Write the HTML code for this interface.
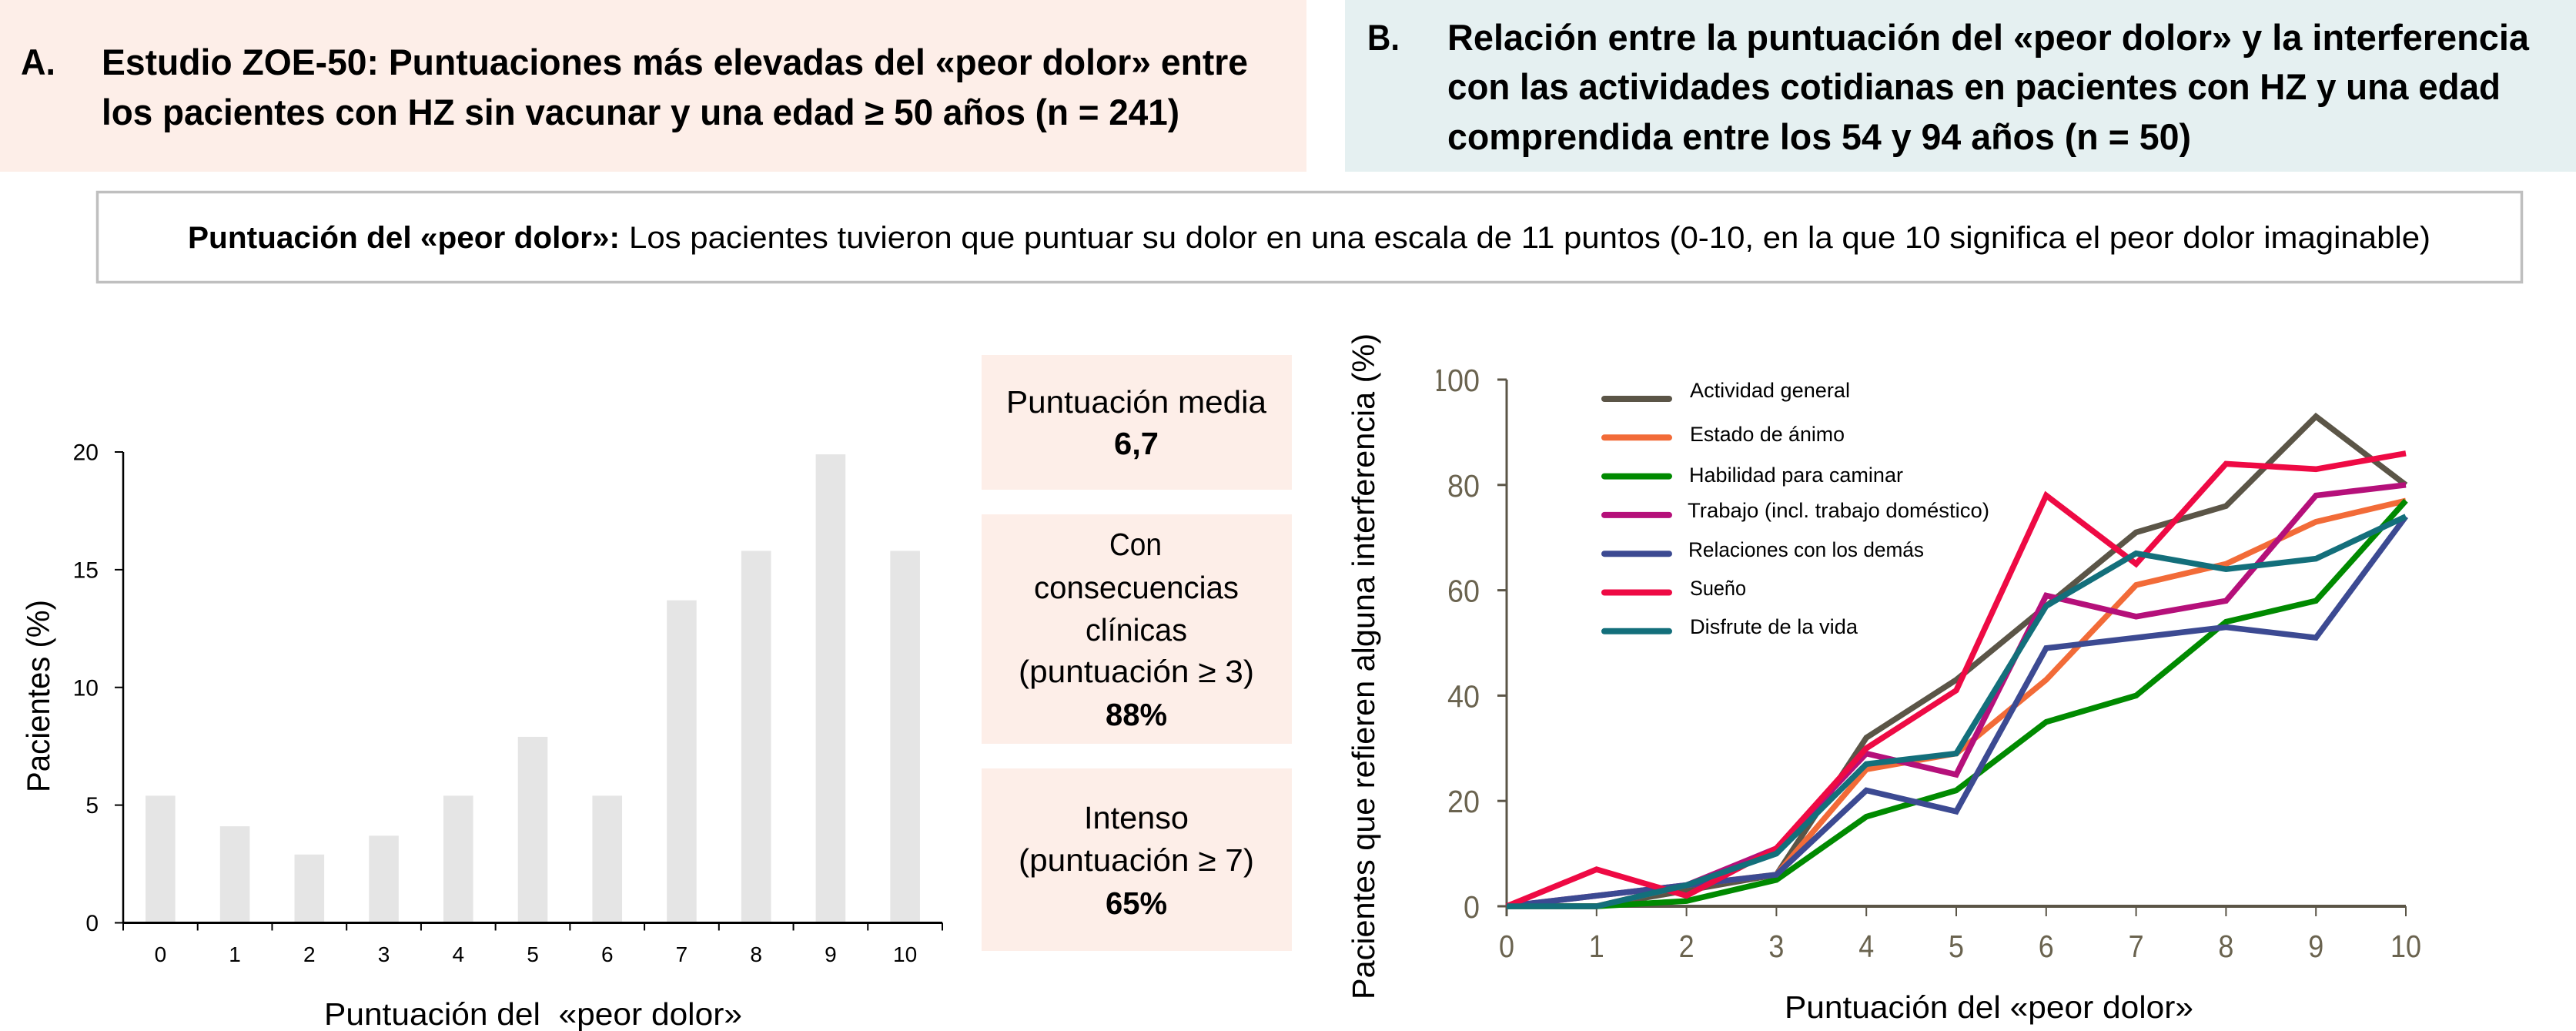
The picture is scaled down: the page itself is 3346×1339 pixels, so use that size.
<!DOCTYPE html>
<html lang="es">
<head>
<meta charset="utf-8">
<title>Estudio ZOE-50: puntuación del «peor dolor»</title>
<style>
html,body{margin:0;padding:0;background:#fff;width:3346px;height:1339px;overflow:hidden}
svg{display:block}
text{font-family:"Liberation Sans",sans-serif;fill:#000}
.head{font-size:47px;font-weight:700}
.note{font-size:40px}
.stat{font-size:41px;text-anchor:start}
.leg{font-size:27px}
.title{font-size:39px}
</style>
</head>
<body>
<svg id="figure" xmlns="http://www.w3.org/2000/svg" width="3346" height="1339" viewBox="0 0 3346 1339">
  <defs>
    <clipPath id="tick-clip"><rect x="1866" y="440" width="200" height="800"/></clipPath>
  </defs>
  <rect x="0" y="0" width="3346" height="1339" fill="#ffffff"/>

  <g>
    <rect x="0" y="0" width="1697" height="223" fill="#fdeee8"/>
    <text class="head" x="27" y="97" textLength="45" lengthAdjust="spacingAndGlyphs">A.</text>
    <text class="head" x="132" y="97" textLength="1489" lengthAdjust="spacingAndGlyphs">Estudio ZOE-50: Puntuaciones más elevadas del «peor dolor» entre</text>
    <text class="head" x="132" y="162" textLength="1400" lengthAdjust="spacingAndGlyphs">los pacientes con HZ sin vacunar y una edad ≥ 50 años (n = 241)</text>
  </g>

  <g>
    <rect x="1747" y="0" width="1599" height="223" fill="#e5f0f1"/>
    <text class="head" x="1776" y="65" textLength="42" lengthAdjust="spacingAndGlyphs">B.</text>
    <text class="head" x="1880" y="65" textLength="1405" lengthAdjust="spacingAndGlyphs">Relación entre la puntuación del «peor dolor» y la interferencia</text>
    <text class="head" x="1880" y="129" textLength="1368" lengthAdjust="spacingAndGlyphs">con las actividades cotidianas en pacientes con HZ y una edad</text>
    <text class="head" x="1880" y="194" textLength="966" lengthAdjust="spacingAndGlyphs">comprendida entre los 54 y 94 años (n = 50)</text>
  </g>

  <g>
    <rect x="126.5" y="249.5" width="3149" height="117" fill="#ffffff" stroke="#bfbfbf" stroke-width="3.5"/>
    <text class="note" style="font-weight:700" x="244" y="322" textLength="561" lengthAdjust="spacingAndGlyphs">Puntuación del «peor dolor»:</text>
    <text class="note" x="817" y="322" textLength="2340" lengthAdjust="spacingAndGlyphs">Los pacientes tuvieron que puntuar su dolor en una escala de 11 puntos (0-10, en la que 10 significa el peor dolor imaginable)</text>
  </g>

  <g id="bar-chart">
    <g id="bar-marks"></g>
    <g id="bar-axes"></g>
    <text transform="translate(64,1029) rotate(-90)" x="0" y="0" style="font-size:42px" textLength="250" lengthAdjust="spacingAndGlyphs">Pacientes (%)</text>
    <text x="421" y="1331" style="font-size:41px" textLength="543" lengthAdjust="spacingAndGlyphs" xml:space="preserve">Puntuación del  «peor dolor»</text>
  </g>

  <g>
    <g>
      <rect x="1275" y="461" width="403" height="175" fill="#fdeee8"/>
      <text class="stat" x="1307" y="536" textLength="338" lengthAdjust="spacingAndGlyphs">Puntuación media</text>
      <text class="stat" style="font-weight:700" x="1447" y="590" textLength="58" lengthAdjust="spacingAndGlyphs">6,7</text>
    </g>
    <g>
      <rect x="1275" y="668" width="403" height="298" fill="#fdeee8"/>
      <text class="stat" x="1441" y="721" textLength="68" lengthAdjust="spacingAndGlyphs">Con</text>
      <text class="stat" x="1343" y="777" textLength="266" lengthAdjust="spacingAndGlyphs">consecuencias</text>
      <text class="stat" x="1410" y="832" textLength="132" lengthAdjust="spacingAndGlyphs">clínicas</text>
      <text class="stat" x="1323" y="886" textLength="306" lengthAdjust="spacingAndGlyphs">(puntuación ≥ 3)</text>
      <text class="stat" style="font-weight:700" x="1436" y="942" textLength="80" lengthAdjust="spacingAndGlyphs">88%</text>
    </g>
    <g>
      <rect x="1275" y="998" width="403" height="237" fill="#fdeee8"/>
      <text class="stat" x="1408" y="1076" textLength="136" lengthAdjust="spacingAndGlyphs">Intenso</text>
      <text class="stat" x="1323" y="1131" textLength="306" lengthAdjust="spacingAndGlyphs">(puntuación ≥ 7)</text>
      <text class="stat" style="font-weight:700" x="1436" y="1187" textLength="80" lengthAdjust="spacingAndGlyphs">65%</text>
    </g>
  </g>

  <g id="line-chart">
    <g id="line-axes"></g>
    <g id="line-marks"></g>
    <g id="line-legend"></g>
    <text transform="translate(1785,1298) rotate(-90)" x="0" y="0" style="font-size:41px" textLength="865" lengthAdjust="spacingAndGlyphs">Pacientes que refieren alguna interferencia (%)</text>
    <text x="2318" y="1322" style="font-size:41px" textLength="531" lengthAdjust="spacingAndGlyphs">Puntuación del «peor dolor»</text>
  </g>
</svg>

<script>
// Bar chart data
const barCategories = ['0', '1', '2', '3', '4', '5', '6', '7', '8', '9', '10'];
const barValues = [5.4, 4.1, 2.9, 3.7, 5.4, 7.9, 5.4, 13.7, 15.8, 19.9, 15.8];
const barYTicks = [0, 5, 10, 15, 20];

// Line chart data
const lineXTicks = [0, 1, 2, 3, 4, 5, 6, 7, 8, 9, 10];
const lineYTicks = [0, 20, 40, 60, 80, 100];
const actividadGeneral = [0, 0, 3, 6, 32, 43, 57, 71, 76, 93, 80];
const estadoDeAnimo = [0, 0, 4, 6, 26, 29, 43, 61, 65, 73, 77];
const habilidadCaminar = [0, 0, 1, 5, 17, 22, 35, 40, 54, 58, 77];
const trabajo = [0, 2, 4, 11, 29, 25, 59, 55, 58, 78, 80];
const relaciones = [0, 2, 4, 6, 22, 18, 49, 51, 53, 51, 74];
const sueno = [0, 7, 2, 11, 30, 41, 78, 65, 84, 83, 86];
const disfrute = [0, 0, 4, 10, 27, 29, 57, 67, 64, 66, 74];
const seriesNames = ['Actividad general', 'Estado de ánimo', 'Habilidad para caminar', 'Trabajo (incl. trabajo doméstico)', 'Relaciones con los demás', 'Sueño', 'Disfrute de la vida'];
const seriesValues = [actividadGeneral, estadoDeAnimo, habilidadCaminar, trabajo, relaciones, sueno, disfrute];
const seriesColors = ['#5b5547', '#f26b38', '#008a00', '#b5107a', '#3c4a92', '#ee0a44', '#136f7b'];

const NS = 'http://www.w3.org/2000/svg';
function make(tag, parent, attrs) {
  const el = document.createElementNS(NS, tag);
  for (const k in attrs) el.setAttribute(k, attrs[k]);
  parent.appendChild(el);
  return el;
}

// Bar chart scales
const barLeft = 160, barRight = 1224, barBase = 1198.5, barTop = 587;
const barStep = (barRight - barLeft) / barCategories.length;
function barX(i) { return barLeft + barStep * (i + 0.5); }
function barY(v) { return barBase - (v / 20) * (barBase - barTop); }

const barMarks = document.getElementById('bar-marks');
const barAxes = document.getElementById('bar-axes');
barValues.forEach(function (v, i) {
  const el = make('rect', barMarks, { x: barX(i) - 19.3, y: barY(v), width: 38.6, height: barBase - barY(v), fill: '#e5e5e5' });
  
  
});
const barYAxis = make('line', barAxes, { x1: barLeft, y1: barTop, x2: barLeft, y2: barBase + 1, stroke: '#000', 'stroke-width': 2.5 });


const barXAxis = make('line', barAxes, { x1: barLeft, y1: barBase, x2: barRight, y2: barBase, stroke: '#000', 'stroke-width': 3 });


barYTicks.forEach(function (t) {
  const tick = make('line', barAxes, { x1: barLeft - 11, y1: barY(t), x2: barLeft, y2: barY(t), stroke: '#000', 'stroke-width': 2 });
  
  
  const label = make('text', barAxes, { x: 128, y: barY(t) + 10.5, 'text-anchor': 'end', style: 'font-size:30px' });
  label.textContent = String(t);
  
  
});
for (let i = 0; i <= barCategories.length; i++) {
  const tx = barLeft + barStep * i;
  const tick = make('line', barAxes, { x1: tx, y1: barBase, x2: tx, y2: barBase + 10, stroke: '#000', 'stroke-width': 2 });
  
  
}
barCategories.forEach(function (c, i) {
  const label = make('text', barAxes, { x: barX(i), y: 1249, 'text-anchor': 'middle', style: 'font-size:28px' });
  label.textContent = c;
  
  
});

// Line chart scales
const lineLeft = 1957, lineRight = 3125, lineBase = 1177, lineTop = 493;
function lineX(v) { return lineLeft + (v / 10) * (lineRight - lineLeft); }
function lineY(v) { return lineBase - (v / 100) * (lineBase - lineTop); }

const lineAxes = document.getElementById('line-axes');
const lineMarks = document.getElementById('line-marks');
const lineLegend = document.getElementById('line-legend');
const axisColor = '#5b5547', tickTextColor = '#6a634f';
const lineYAxis = make('line', lineAxes, { x1: lineLeft, y1: lineTop, x2: lineLeft, y2: lineBase + 13, stroke: axisColor, 'stroke-width': 3 });


const lineXAxis = make('line', lineAxes, { x1: lineLeft, y1: lineBase, x2: lineRight, y2: lineBase, stroke: axisColor, 'stroke-width': 4 });


lineYTicks.forEach(function (t) {
  const tick = make('line', lineAxes, { x1: lineLeft - 12, y1: lineY(t), x2: lineLeft, y2: lineY(t), stroke: axisColor, 'stroke-width': 3 });
  
  
  const s = String(t);
  const label = make('text', lineAxes, { x: 1922, y: lineY(t) + 15, 'text-anchor': 'end', 'clip-path': 'url(#tick-clip)', textLength: s.length * 21, lengthAdjust: 'spacingAndGlyphs', style: 'font-size:41px;fill:' + tickTextColor });
  label.textContent = s;
  
  
});
lineXTicks.forEach(function (t) {
  const tick = make('line', lineAxes, { x1: lineX(t), y1: lineBase, x2: lineX(t), y2: lineBase + 13, stroke: axisColor, 'stroke-width': 2 });
  
  
  const s = String(t);
  const label = make('text', lineAxes, { x: lineX(t), y: 1243, 'text-anchor': 'middle', textLength: s.length * 20, lengthAdjust: 'spacingAndGlyphs', style: 'font-size:41px;fill:' + tickTextColor });
  label.textContent = s;
  
  
});

seriesValues.forEach(function (vals, s) {
  const d = vals.map(function (v, i) { return (i ? 'L' : 'M') + lineX(lineXTicks[i]).toFixed(1) + ' ' + lineY(v).toFixed(1); }).join(' ');
  const path = make('path', lineMarks, { d: d, fill: 'none', stroke: seriesColors[s], 'stroke-width': 7.5, 'stroke-linejoin': 'miter', 'stroke-linecap': 'butt' });
  
  
});

// Legend layout
const legendSwatchY = 518, legendSwatchStep = 50.3;
const legendLabelBase = [516, 573, 626, 672, 723, 773, 823];
const legendLabelStart = [2195, 2195, 2194, 2192, 2193, 2195, 2195];
const legendLabelWidth = [208, 201, 278, 392, 306, 73, 218];
seriesNames.forEach(function (name, s) {
  const swatch = make('line', lineLegend, { x1: 2084, y1: legendSwatchY + legendSwatchStep * s, x2: 2168, y2: legendSwatchY + legendSwatchStep * s, stroke: seriesColors[s], 'stroke-width': 8, 'stroke-linecap': 'round' });
  
  
  const label = make('text', lineLegend, { class: 'leg', x: legendLabelStart[s], y: legendLabelBase[s], textLength: legendLabelWidth[s], lengthAdjust: 'spacingAndGlyphs' });
  label.textContent = name;
  
  
});
</script>
</body>
</html>
